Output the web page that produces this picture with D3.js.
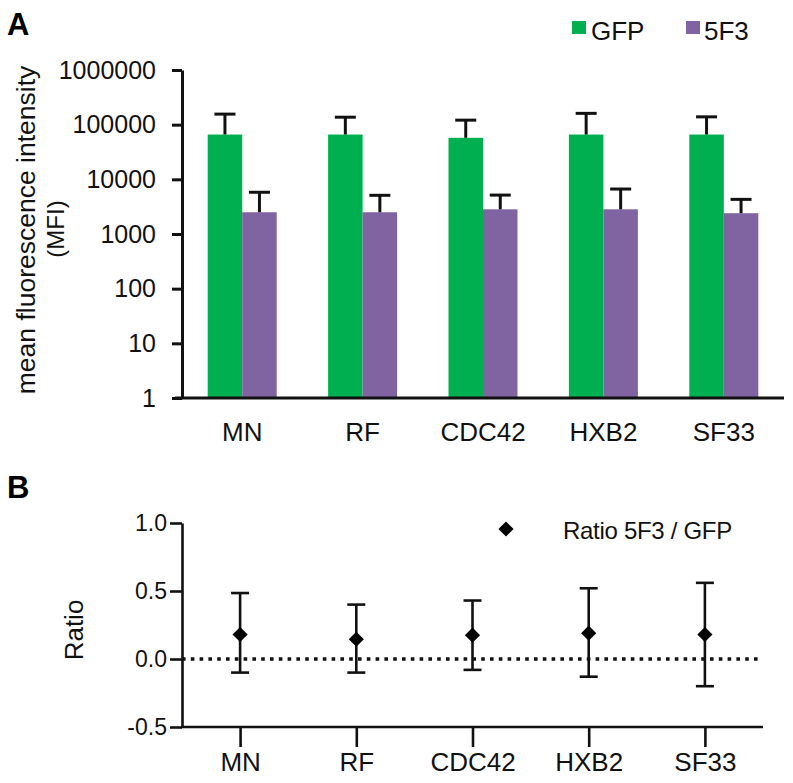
<!DOCTYPE html>
<html>
<head>
<meta charset="utf-8">
<script src="https://cdn.jsdelivr.net/npm/d3@7/dist/d3.min.js"></script>
<style>
  html, body { margin: 0; padding: 0; background: #fff; }
  svg { display: block; font-family: Arial, "Liberation Sans", Helvetica, sans-serif; }
</style>
</head>
<body>
<svg id="chart" width="793" height="783"></svg>
<script>
// ---- Data ----
const categories = ["MN", "RF", "CDC42", "HXB2", "SF33"];
const gfpMean = [66000, 66000, 57500, 66000, 66000];
const gfpUpper = [156000, 137000, 121000, 161000, 139000];
const f53Mean = [2500, 2500, 2830, 2830, 2400];
const f53Upper = [5800, 5100, 5150, 6650, 4300];
const logTicks = [1, 10, 100, 1000, 10000, 100000, 1000000];
const seriesNames = ["GFP", "5F3"];
const seriesColors = ["#00B050", "#8064A2"];

const ratioMean = [0.18, 0.145, 0.175, 0.19, 0.18];
const ratioLow = [-0.10, -0.10, -0.08, -0.13, -0.20];
const ratioHigh = [0.485, 0.40, 0.43, 0.52, 0.56];
const ratioTicks = [-0.5, 0, 0.5, 1.0];
const ratioLegend = "Ratio 5F3 / GFP";

const svg = d3.select("#chart");
const ink = "#111";

// ================= Panel A =================
const A = { left: 182, right: 784, top: 70, bottom: 398 };
const yA = d3.scaleLog().domain([1, 1000000]).range([A.bottom, A.top]);
const xA = d3.scaleBand().domain(categories).range([A.left, A.right]).paddingInner(0).paddingOuter(0);
const barW = 34.5;

const gA = svg.append("g");

// bars
const seriesA = [gfpMean, f53Mean];
const upperA = [gfpUpper, f53Upper];
seriesA.forEach((vals, s) => {
  gA.append("g").selectAll("rect").data(categories).join("rect")
    .attr("x", (c) => xA(c) + xA.bandwidth() / 2 - barW + s * barW)
    .attr("y", (c, i) => yA(vals[i]))
    .attr("width", barW)
    .attr("height", (c, i) => yA(1) - yA(vals[i]))
    .attr("fill", seriesColors[s]);
});
// error bars (upper only)
seriesA.forEach((vals, s) => {
  const g = gA.append("g").attr("stroke", ink).attr("stroke-width", 3);
  categories.forEach((c, i) => {
    const cx = xA(c) + xA.bandwidth() / 2 - barW / 2 + s * barW;
    g.append("line").attr("x1", cx).attr("x2", cx)
      .attr("y1", yA(vals[i])).attr("y2", yA(upperA[s][i]));
    g.append("line").attr("x1", cx - 10.5).attr("x2", cx + 10.5)
      .attr("y1", yA(upperA[s][i])).attr("y2", yA(upperA[s][i]));
  });
});

// y axis
const yAxisA = d3.axisLeft(yA).tickValues(logTicks).tickFormat(d => String(d))
  .tickSizeInner(10).tickSizeOuter(0).tickPadding(16);
const gyA = gA.append("g").attr("transform", `translate(${A.left},0)`).call(yAxisA);
gyA.select(".domain").attr("stroke", ink).attr("stroke-width", 3);
gyA.selectAll(".tick line").attr("stroke", ink).attr("stroke-width", 3);
gyA.selectAll(".tick text").attr("font-size", 25).attr("fill", ink).attr("font-family", "Arial, 'Liberation Sans', sans-serif");

// x axis
const xAxisA = d3.axisBottom(xA).tickSizeInner(0).tickSizeOuter(0).tickPadding(25);
const gxA = gA.append("g").attr("transform", `translate(0,${A.bottom})`).call(xAxisA);
gxA.select(".domain").remove();
gA.append("line").attr("x1", A.left - 7).attr("x2", A.right)
  .attr("y1", A.bottom).attr("y2", A.bottom).attr("stroke", ink).attr("stroke-width", 3);
gxA.selectAll(".tick text").attr("font-size", 26).attr("fill", ink).attr("font-family", "Arial, 'Liberation Sans', sans-serif");

// y title
gA.append("text").attr("transform", "translate(35,230) rotate(-90)")
  .attr("text-anchor", "middle").attr("font-size", 26.5).attr("fill", ink)
  .text("mean fluorescence intensity");
gA.append("text").attr("transform", "translate(64,229) rotate(-90)")
  .attr("text-anchor", "middle").attr("font-size", 24).attr("fill", ink)
  .text("(MFI)");

// legend A
const legA = [{ x: 572, tx: 591 }, { x: 686, tx: 704 }];
legA.forEach((p, s) => {
  gA.append("rect").attr("x", p.x).attr("y", 21).attr("width", 14).attr("height", 13)
    .attr("fill", seriesColors[s]);
  gA.append("text").attr("x", p.tx).attr("y", 40).attr("font-size", 26).attr("fill", ink)
    .text(seriesNames[s]);
});

// panel label
svg.append("text").attr("x", 7).attr("y", 35).attr("font-size", 31).attr("font-weight", "bold")
  .attr("fill", "#000").text("A");

// ================= Panel B =================
const B = { left: 182, right: 763, top: 523, bottom: 727 };
const yB = d3.scaleLinear().domain([-0.5, 1.0]).range([B.bottom, B.top]);
const xB = d3.scalePoint().domain(categories).range([B.left, B.right]).padding(0.5);

const gB = svg.append("g");

// dotted zero line
gB.append("line").attr("x1", B.left).attr("x2", 758)
  .attr("y1", yB(0)).attr("y2", yB(0))
  .attr("stroke", ink).attr("stroke-width", 3.6)
  .attr("stroke-dasharray", "3.6,5.2");

// y axis
const yAxisB = d3.axisLeft(yB).tickValues(ratioTicks).tickFormat(d => d.toFixed(1))
  .tickSizeInner(12).tickSizeOuter(0).tickPadding(3);
const gyB = gB.append("g").attr("transform", `translate(${B.left},0)`).call(yAxisB);
gyB.select(".domain").attr("stroke", ink).attr("stroke-width", 2.6);
gyB.selectAll(".tick line").attr("stroke", ink).attr("stroke-width", 2.6);
gyB.selectAll(".tick text").attr("font-size", 23).attr("fill", ink).attr("font-family", "Arial, 'Liberation Sans', sans-serif");

// x axis
const xAxisB = d3.axisBottom(xB).tickSizeInner(20).tickSizeOuter(0).tickPadding(6);
const gxB = gB.append("g").attr("transform", `translate(0,${B.bottom})`).call(xAxisB);
gxB.select(".domain").remove();
gB.append("line").attr("x1", B.left - 1).attr("x2", B.right)
  .attr("y1", B.bottom).attr("y2", B.bottom).attr("stroke", ink).attr("stroke-width", 2.6);
gxB.selectAll(".tick line").attr("stroke", ink).attr("stroke-width", 2.6);
gxB.selectAll(".tick text").attr("font-size", 26).attr("fill", ink).attr("font-family", "Arial, 'Liberation Sans', sans-serif");

// error bars
const eg = gB.append("g").attr("stroke", ink).attr("stroke-width", 2.6);
categories.forEach((c, i) => {
  const cx = xB(c);
  eg.append("line").attr("x1", cx).attr("x2", cx).attr("y1", yB(ratioLow[i])).attr("y2", yB(ratioHigh[i]));
  eg.append("line").attr("x1", cx - 9).attr("x2", cx + 9).attr("y1", yB(ratioHigh[i])).attr("y2", yB(ratioHigh[i]));
  eg.append("line").attr("x1", cx - 9).attr("x2", cx + 9).attr("y1", yB(ratioLow[i])).attr("y2", yB(ratioLow[i]));
});
// diamonds
const diamond = d3.symbol().type(d3.symbolSquare).size(115);
gB.append("g").selectAll("path").data(categories).join("path")
  .attr("d", diamond)
  .attr("transform", (c, i) => `translate(${xB(c)},${yB(ratioMean[i])}) rotate(45)`)
  .attr("fill", "#000");

// legend B
gB.append("path").attr("d", diamond).attr("transform", "translate(506,529) rotate(45)").attr("fill", "#000");
gB.append("text").attr("x", 563).attr("y", 539).attr("font-size", 24).attr("letter-spacing", -0.3)
  .attr("fill", ink).text(ratioLegend);

// y title
gB.append("text").attr("transform", "translate(83,630) rotate(-90)")
  .attr("text-anchor", "middle").attr("font-size", 26).attr("fill", ink).text("Ratio");

// panel label
svg.append("text").attr("x", 7).attr("y", 498).attr("font-size", 31).attr("font-weight", "bold")
  .attr("fill", "#000").text("B");
</script>
</body>
</html>
